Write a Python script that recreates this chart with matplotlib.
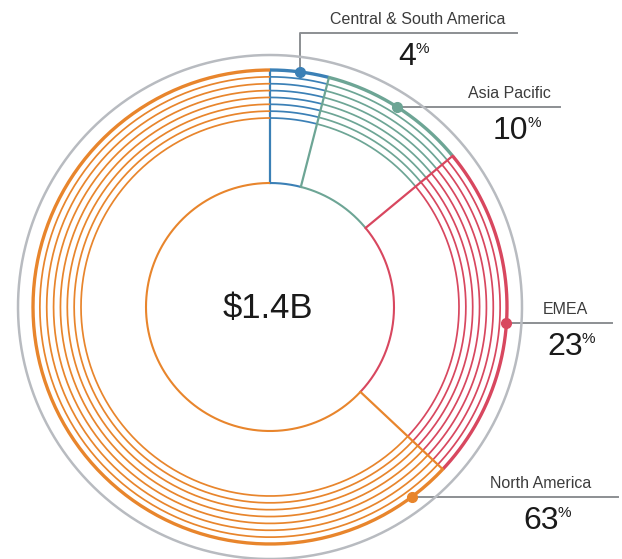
#!/usr/bin/env python3

import matplotlib.pyplot as plt
import numpy as np

# Revenue split by region, clockwise from 12 o'clock
regions = ['Central & South America', 'Asia Pacific', 'EMEA', 'North America']
shares = [4, 10, 23, 63]
total_label = '$1.4B'
colors = ['#3b80b6', '#6da595', '#d8475f', '#e8852c']

# Where each callout leaves the ring (degrees clockwise from top)
callout_angles = [7.2, 32.4, 93.9, 143.3]


def polar(cx, cy, r, deg):
	t = np.radians(deg)
	return cx + r * np.sin(t), cy - r * np.cos(t)


def arc(ax, cx, cy, r, a0, a1, **kw):
	t = np.linspace(a0, a1, 200)
	x, y = polar(cx, cy, r, t)
	ax.plot(x, y, solid_capstyle='butt', **kw)


def main():
	plt.rcParams['font.family'] = ['Liberation Sans', 'DejaVu Sans']
	fig = plt.figure(figsize=(6.22, 5.59), dpi=100)
	ax = fig.add_axes([0, 0, 1, 1])
	ax.set_xlim(0, 622)
	ax.set_ylim(559, 0)
	ax.set_aspect('equal')
	ax.axis('off')

	cx, cy = 270, 307
	r_inner = 124
	r_rings = np.linspace(189, 237, 8)
	r_frame = 252

	#Outer grey frame
	arc(ax, cx, cy, r_frame, 0, 360, color='#b8bbc0', lw=1.8)

	#Sectors: radial edge, inner arc and the concentric rings
	starts = np.concatenate([[0], np.cumsum(shares)[:-1]]) * 3.6
	ends = np.cumsum(shares) * 3.6
	for a0, a1, c in zip(starts, ends, colors):
		arc(ax, cx, cy, r_inner, a0, a1, color=c, lw=1.5)
		for i, r in enumerate(r_rings):
			arc(ax, cx, cy, r, a0, a1, color=c, lw=2.4 if i == len(r_rings) - 1 else 1.25)
		x0, y0 = polar(cx, cy, r_inner, a0)
		x1, y1 = polar(cx, cy, r_rings[-1], a0)
		ax.plot([x0, x1], [y0, y1], color=c, lw=1.6)

	#Total in the middle
	ax.text(cx - 2, cy + 1, total_label, ha='center', va='center', fontsize=25, color='#1a1a1a')

	#Callouts: dot on the ring, leader line, name and share
	leader = dict(color='#8c8f93', lw=1.4, zorder=1)
	line_ends = [517, 560, 612, 618]
	name_x = [418, 509, 565, 541]
	num_x = [416, 528, 583, 559]
	for k, (name, s, c, ang) in enumerate(zip(regions, shares, colors, callout_angles)):
		dx, dy = polar(cx, cy, r_rings[-1], ang)
		if k == 0:
			ly = 33
			ax.plot([dx, dx, line_ends[k]], [dy, ly, ly], **leader)
		else:
			ly = dy
			ax.plot([dx, line_ends[k]], [ly, ly], **leader)
		ax.plot(dx, dy, 'o', color=c, ms=7, zorder=5)
		ax.text(name_x[k], ly - 9, name, ha='center', va='baseline', fontsize=11.5, color='#3c3c3c')
		ax.text(num_x[k], ly + 32, str(s), ha='right', va='baseline', fontsize=23, color='#1a1a1a')
		ax.text(num_x[k] - 1, ly + 20, '%', ha='left', va='baseline', fontsize=11, color='#1a1a1a')

	plt.savefig('out.png', dpi=100)


if __name__ == '__main__':
	main()
